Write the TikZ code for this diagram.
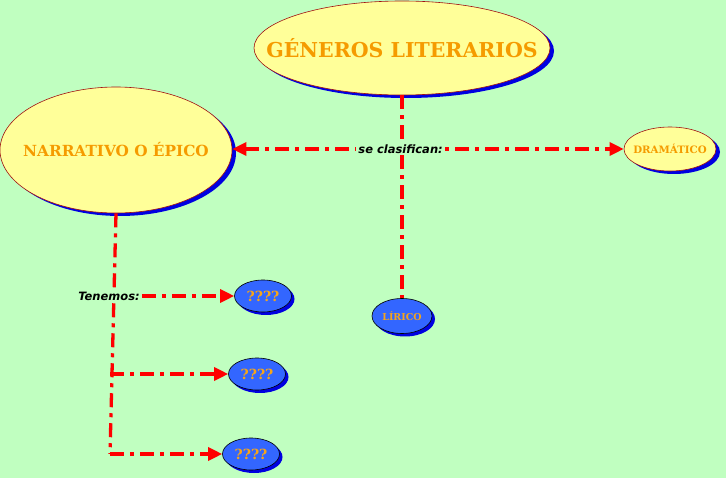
\documentclass[tikz,border=0pt]{standalone}
\usepackage{fontspec}
\usepackage{tikz}
\usetikzlibrary{arrows.meta, positioning, shapes.geometric, shadows}
\newfontfamily\headfont{DejaVu Serif}
\newfontfamily\notefont{DejaVu Sans}
\definecolor{paper}{HTML}{C0FFC0}
\definecolor{cream}{HTML}{FFFF99}
\definecolor{rim}{HTML}{A01010}
\definecolor{amber}{HTML}{F59B00}
\definecolor{royal}{HTML}{3366FF}
\definecolor{deepblue}{HTML}{0000E0}
\newcommand{\slim}[1]{\makebox[0pt]{#1}}

\begin{document}
\begin{tikzpicture}[x=1pt, y=-1pt,
  yellowbox/.style={ellipse, draw=rim, line width=0.6pt, fill=cream, inner sep=0pt,
              text=amber, font=\headfont\bfseries,
              drop shadow={shadow xshift=4pt, shadow yshift=-3pt, fill=deepblue, opacity=1}},
  bluebox/.style={ellipse, draw=black, line width=0.6pt, fill=royal, inner sep=0pt,
              text=amber!90!white, font=\headfont\bfseries,
              drop shadow={shadow xshift=3pt, shadow yshift=-3pt, fill=deepblue, opacity=1}},
  link/.style={draw=red, line width=3.3pt,
              dash pattern=on 14pt off 6pt on 4pt off 6pt},
  arr/.style={link, -{Triangle[length=14pt, width=13pt]}},
  note/.style={font=\notefont\bfseries\itshape\fontsize{11.5}{13}\selectfont,
              fill=paper, inner sep=2pt},
]
\fill[paper] (0,0) rectangle (726,478);
\useasboundingbox (0,0) rectangle (726,478);

% nodes
\node[yellowbox, minimum width=296, minimum height=94, font=\headfont\bfseries\fontsize{20.5}{22}\selectfont] (gen) at (402,48) {\slim{GÉNEROS LITERARIOS}};
\node[yellowbox, minimum width=232, minimum height=126, font=\headfont\bfseries\fontsize{15.3}{16}\selectfont] (narr) at (116,150) {\slim{NARRATIVO O ÉPICO}};
\node[yellowbox, minimum width=92, minimum height=44, font=\headfont\bfseries\fontsize{10.2}{11}\selectfont] (dram) at (670,149) {\slim{DRAMÁTICO}};
\node[bluebox, minimum width=60, minimum height=35, font=\headfont\bfseries\fontsize{9.5}{10}\selectfont] (lir) at (402,316) {\slim{LÍRICO}};
\node[bluebox, minimum width=57, minimum height=32, font=\headfont\bfseries\fontsize{14}{14}\selectfont] (q1) at (263,296) {\slim{????}};
\node[bluebox, minimum width=57, minimum height=32, font=\headfont\bfseries\fontsize{14}{14}\selectfont] (q2) at (257,374) {\slim{????}};
\node[bluebox, minimum width=57, minimum height=32, font=\headfont\bfseries\fontsize{14}{14}\selectfont] (q3) at (251,454) {\slim{????}};

\coordinate (split) at (110,374);
\coordinate (corner) at (110,454);

% connectors
\draw[link] (gen) -- (lir);
\draw[arr, {Triangle[length=14pt, width=13pt]}-{Triangle[length=14pt, width=13pt]}] (narr.east |- dram) -- node[note, pos=0.43] (clas) {se clasifican:} (dram);
\draw[link] (narr.south) -- (corner);
\draw[arr] (corner) -- (q3);
\draw[arr] (split) -- (q2);
\node[note] (ten) at (109,296) {Tenemos:};
\draw[arr] (ten) -- (q1);
\end{tikzpicture}
\end{document}
